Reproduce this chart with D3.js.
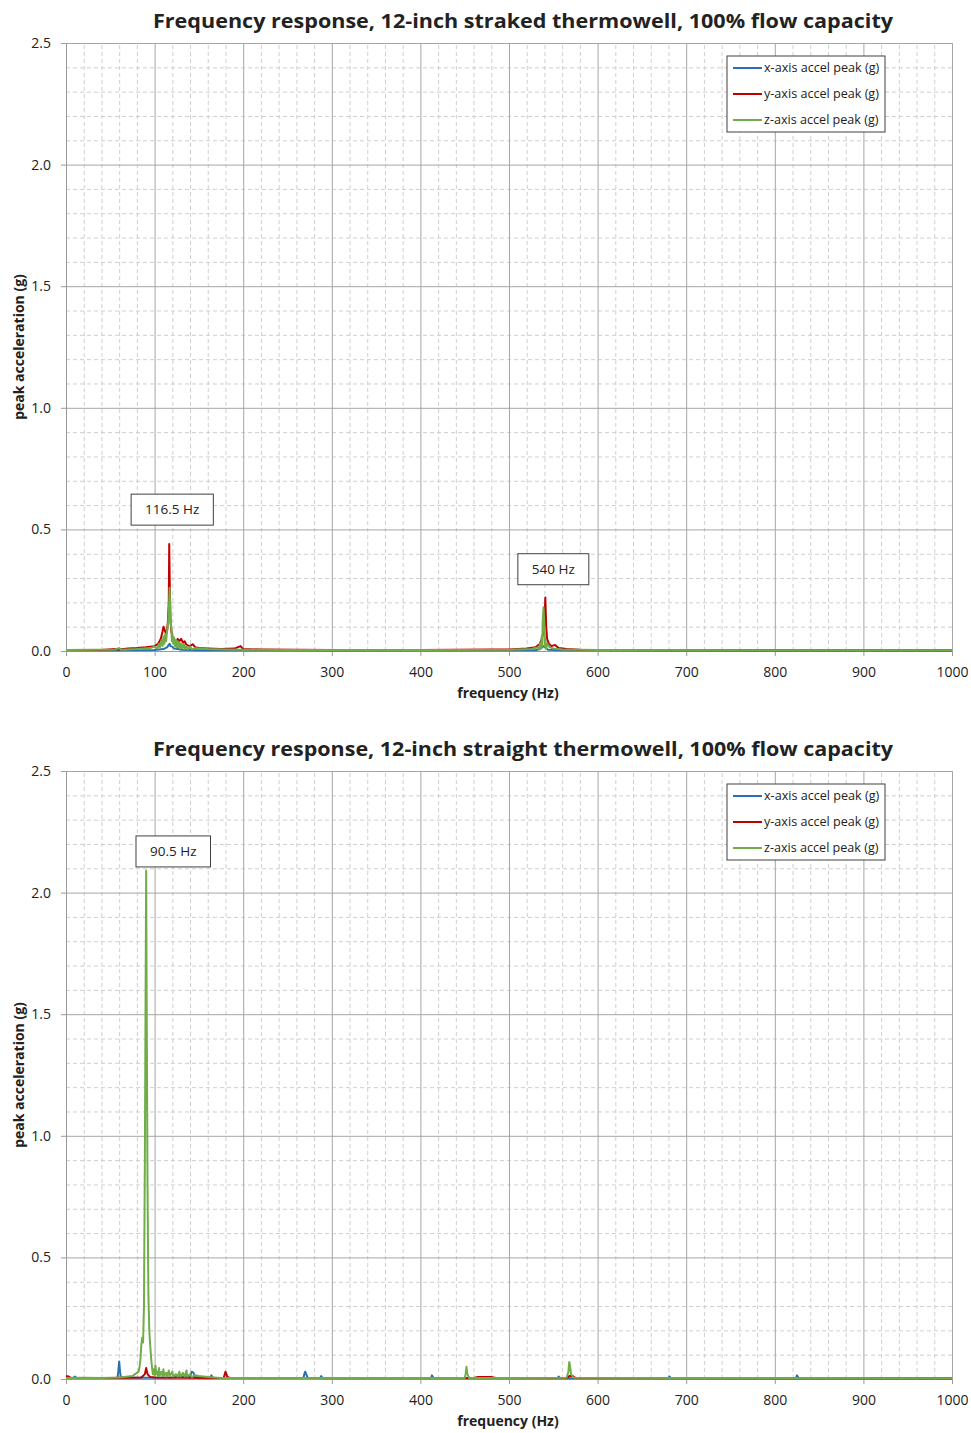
<!DOCTYPE html>
<html>
<head>
<meta charset="utf-8">
<script src="https://d3js.org/d3.v7.min.js"></script>
<style>
  body { margin:0; background:#fff; }
  text { font-family: "Open Sans", "Liberation Sans", sans-serif; fill:#222; }
</style>
</head>
<body>
<script>
// ---- data ----
var titles = ["Frequency response, 12-inch straked thermowell, 100% flow capacity",
              "Frequency response, 12-inch straight thermowell, 100% flow capacity"];
var seriesNames = ["x-axis accel peak (g)", "y-axis accel peak (g)", "z-axis accel peak (g)"];
var seriesColors = ["#2b6fb3", "#c00000", "#70ad47"];
var xTicks = [0, 100, 200, 300, 400, 500, 600, 700, 800, 900, 1000];
var yTicks = [0, 0.5, 1.0, 1.5, 2.0, 2.5];

// chart 1 : straked thermowell  [Hz, g]
var strakedX = [[0,0.003],[50,0.003],[100,0.004],[110,0.008],[114,0.015],[116,0.025],[117,0.03],[118,0.02],[120,0.018],[122,0.01],[126,0.008],[130,0.005],[150,0.003],[300,0.002],[530,0.003],[536,0.01],[539,0.02],[541,0.015],[544,0.005],[560,0.003],[1000,0.002]];
var strakedY = [[0,0.004],[40,0.004],[55,0.008],[60,0.006],[70,0.01],[80,0.012],[90,0.015],[100,0.02],[104,0.03],[107,0.05],[109,0.08],[110,0.1],[111,0.09],[113,0.07],[114,0.08],[115,0.12],[116,0.2],[116.5,0.44],[117,0.3],[118,0.12],[119,0.08],[120,0.06],[122,0.04],[124,0.03],[126,0.05],[128,0.04],[130,0.05],[132,0.035],[134,0.04],[136,0.025],[140,0.02],[143,0.028],[146,0.015],[150,0.012],[160,0.01],[175,0.008],[190,0.01],[197,0.02],[200,0.008],[220,0.006],[260,0.005],[300,0.004],[400,0.004],[480,0.006],[500,0.006],[520,0.01],[530,0.015],[535,0.03],[537,0.05],[539,0.08],[540,0.12],[541,0.22],[542,0.1],[543,0.05],[545,0.03],[548,0.02],[552,0.025],[556,0.012],[565,0.008],[580,0.005],[600,0.004],[700,0.003],[800,0.003],[1000,0.003]];
var strakedZ = [[0,0.004],[30,0.005],[55,0.006],[60,0.012],[62,0.005],[80,0.008],[95,0.012],[100,0.018],[103,0.01],[105,0.03],[106,0.015],[108,0.045],[109,0.02],[110,0.06],[111,0.03],[112,0.07],[113,0.04],[114,0.08],[115,0.1],[116,0.16],[117,0.26],[117.5,0.18],[118,0.12],[119,0.09],[119.5,0.04],[120,0.07],[121,0.03],[122,0.055],[123,0.02],[124,0.045],[125,0.015],[126,0.04],[127,0.015],[128,0.035],[129,0.01],[130,0.03],[131,0.01],[133,0.03],[134,0.008],[136,0.02],[138,0.006],[140,0.018],[142,0.006],[145,0.012],[150,0.01],[160,0.008],[180,0.006],[200,0.005],[250,0.004],[400,0.004],[500,0.005],[525,0.008],[532,0.015],[534,0.005],[535,0.03],[536,0.01],[537,0.06],[537.5,0.02],[538,0.12],[539,0.18],[540,0.1],[540.5,0.02],[541,0.05],[542,0.01],[543,0.03],[546,0.015],[550,0.01],[560,0.006],[600,0.004],[1000,0.003]];

// chart 2 : straight thermowell  [Hz, g]
var straightX = [[0,0.005],[8,0.004],[10,0.01],[12,0.004],[58,0.004],[59,0.03],[60,0.072],[61,0.03],[62,0.005],[90,0.005],[120,0.006],[130,0.01],[140,0.012],[142,0.03],[144,0.025],[146,0.006],[163,0.006],[164,0.015],[166,0.004],[268,0.004],[269,0.02],[270,0.03],[271,0.02],[273,0.004],[287,0.004],[288,0.012],[290,0.003],[412,0.003],[413,0.015],[415,0.003],[555,0.003],[556,0.01],[558,0.003],[680,0.003],[681,0.01],[683,0.003],[824,0.003],[825,0.015],[827,0.003],[1000,0.002]];
var straightY = [[0,0.012],[3,0.01],[6,0.004],[50,0.004],[85,0.006],[89,0.02],[90.5,0.045],[92,0.02],[95,0.008],[100,0.006],[130,0.005],[170,0.004],[178,0.005],[180,0.03],[182,0.01],[185,0.004],[460,0.004],[465,0.008],[480,0.008],[485,0.004],[565,0.004],[568,0.012],[572,0.012],[575,0.004],[1000,0.003]];
var straightZ = [[0,0.004],[20,0.005],[40,0.004],[60,0.006],[70,0.01],[75,0.012],[78,0.02],[80,0.025],[82,0.03],[83,0.05],[84,0.08],[85,0.14],[86,0.17],[87,0.15],[88,0.3],[89,0.9],[90,1.7],[90.5,2.09],[91,1.6],[92,0.8],[93,0.35],[94,0.2],[95,0.14],[96,0.09],[97,0.05],[98,0.02],[99,0.04],[100,0.015],[101,0.055],[102,0.02],[103,0.03],[104,0.012],[105,0.045],[106,0.015],[108,0.03],[109,0.012],[110,0.04],[111,0.015],[113,0.025],[114,0.01],[116,0.035],[117,0.012],[120,0.03],[121,0.01],[124,0.02],[126,0.01],[128,0.03],[129,0.01],[132,0.025],[134,0.01],[136,0.035],[137,0.01],[140,0.02],[142,0.008],[145,0.015],[150,0.012],[160,0.008],[175,0.004],[200,0.004],[300,0.004],[450,0.004],[451,0.02],[452,0.05],[453,0.02],[455,0.004],[565,0.005],[567,0.03],[568,0.07],[569,0.05],[570,0.02],[573,0.005],[700,0.004],[1000,0.003]];

// annotation callouts: label, box left Hz, box top g
var strakedNotes = [["116.5 Hz", 73.5, 0.645], ["540 Hz", 510, 0.4]];
var straightNotes = [["90.5 Hz", 79, 2.233]];

// ---- drawing ----
const W = 971, H = 1433;
const svg = d3.select("body").append("svg").attr("width", W).attr("height", H);

function drawChart(top, title, series, notes) {
  var left = 66, right = 952, plotTop = top + 43, plotBottom = top + 651;
  var x = d3.scaleLinear().domain([0, 1000]).range([left, right]);
  var y = d3.scaleLinear().domain([0, 2.5]).range([plotBottom, plotTop]);
  var g = svg.append("g");

  // minor grid
  g.append("g").attr("transform", "translate(0," + plotBottom + ")")
    .call(d3.axisBottom(x).tickValues(d3.range(20, 1000, 20).filter(d => d % 100 != 0)).tickSize(-(plotBottom - plotTop)).tickFormat(""))
    .call(a => a.select(".domain").remove())
    .call(a => a.selectAll("line").attr("stroke", "#cfcfcf").attr("stroke-dasharray", "4,3"));
  g.append("g").attr("transform", "translate(" + left + ",0)")
    .call(d3.axisLeft(y).tickValues(d3.range(1, 25).map(d => d / 10).filter(d => Math.round(d * 10) % 5 != 0)).tickSize(-(right - left)).tickFormat(""))
    .call(a => a.select(".domain").remove())
    .call(a => a.selectAll("line").attr("stroke", "#cfcfcf").attr("stroke-dasharray", "4,3"));
  // major grid
  g.append("g").attr("transform", "translate(0," + plotBottom + ")")
    .call(d3.axisBottom(x).tickValues(xTicks.slice(1)).tickSize(-(plotBottom - plotTop)).tickFormat(""))
    .call(a => a.select(".domain").remove())
    .call(a => a.selectAll("line").attr("stroke", "#a6a6a6"));
  g.append("g").attr("transform", "translate(" + left + ",0)")
    .call(d3.axisLeft(y).tickValues(yTicks.slice(1)).tickSize(-(right - left)).tickFormat(""))
    .call(a => a.select(".domain").remove())
    .call(a => a.selectAll("line").attr("stroke", "#a6a6a6"));

  // axes
  var xa = g.append("g").attr("transform", "translate(0," + plotBottom + ")")
    .call(d3.axisBottom(x).tickValues(xTicks).tickSize(5).tickPadding(11).tickFormat(d3.format("d")));
  var ya = g.append("g").attr("transform", "translate(" + left + ",0)")
    .call(d3.axisLeft(y).tickValues(yTicks).tickSize(5).tickPadding(10).tickFormat(d3.format(".1f")));
  [xa, ya].forEach(a => {
    a.select(".domain").attr("stroke", "#9a9a9a");
    a.selectAll("line").attr("stroke", "#9a9a9a");
    a.selectAll("text").style("font-family", "'Open Sans', sans-serif").style("font-size", "14px").attr("fill", "#333");
  });

  // series lines
  var line = d3.line().x(d => x(d[0])).y(d => y(d[1]));
  series.forEach((s, i) => {
    g.append("path").datum(s).attr("d", line).attr("fill", "none")
      .attr("stroke", seriesColors[i]).attr("stroke-width", 2).attr("stroke-linejoin", "round");
  });

  // title & axis labels
  g.append("text").attr("x", 523).attr("y", top + 28).attr("text-anchor", "middle")
    .style("font-size", "20px").style("font-weight", "bold").attr("textLength", 740).attr("lengthAdjust", "spacingAndGlyphs")
    .text(title);
  g.append("text").attr("x", 508).attr("y", top + 698).attr("text-anchor", "middle")
    .style("font-size", "14px").style("font-weight", "bold").text("frequency (Hz)");
  g.append("text").attr("transform", "translate(24," + ((plotTop + plotBottom) / 2) + ") rotate(-90)")
    .attr("text-anchor", "middle").style("font-size", "14px").style("font-weight", "bold")
    .text("peak acceleration (g)");

  // legend
  var lg = g.append("g").attr("transform", "translate(727," + (top + 56) + ")");
  lg.append("rect").attr("width", 158).attr("height", 76).attr("fill", "#fff").attr("stroke", "#404040");
  seriesNames.forEach((n, i) => {
    var yy = 12 + i * 26;
    lg.append("line").attr("x1", 6).attr("x2", 35).attr("y1", yy).attr("y2", yy)
      .attr("stroke", seriesColors[i]).attr("stroke-width", 2);
    lg.append("text").attr("x", 37).attr("y", yy + 4).style("font-size", "12.6px").attr("fill", "#222").text(n);
  });

  // callouts
  notes.forEach(n => {
    var bx = x(n[1]), by = y(n[2]);
    var rect = g.append("rect").attr("x", bx).attr("y", by).attr("height", 31)
      .attr("fill", "#fff").attr("stroke", "#404040");
    var t = g.append("text").attr("y", by + 20).attr("text-anchor", "middle")
      .style("font-size", "13.5px").text(n[0]);
    var bw = t.node().getComputedTextLength() + 28;
    rect.attr("width", bw);
    t.attr("x", bx + bw / 2);
  });
}

drawChart(0, titles[0], [strakedX, strakedY, strakedZ], strakedNotes);
drawChart(728, titles[1], [straightX, straightY, straightZ], straightNotes);
</script>
</body>
</html>
